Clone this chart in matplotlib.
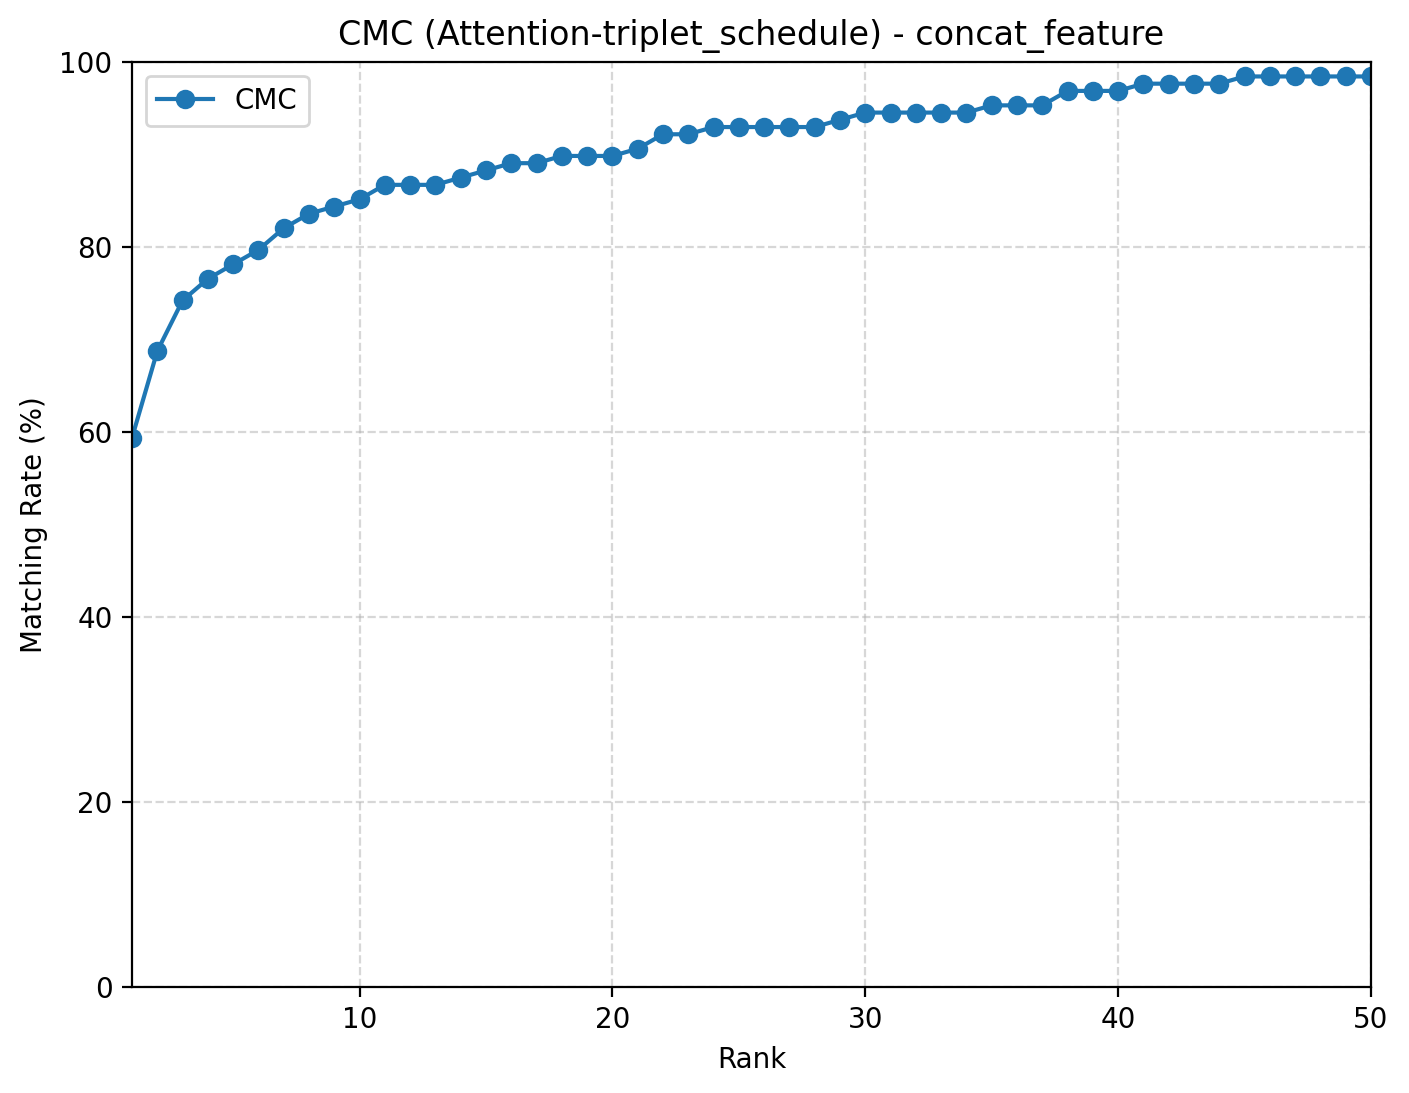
import matplotlib
matplotlib.use("Agg")
import matplotlib.pyplot as plt
import numpy as np

ranks = list(range(1, 51))
hits = [76, 88, 95, 98, 100, 102, 105, 107, 108, 109,
        111, 111, 111, 112, 113, 114, 114, 115, 115, 115,
        116, 118, 118, 119, 119, 119, 119, 119, 120, 121,
        121, 121, 121, 121, 122, 122, 122, 124, 124, 124,
        125, 125, 125, 125, 126, 126, 126, 126, 126, 126]
total = 128
cmc = [h / total * 100 for h in hits]

fig = plt.figure(figsize=(1409/200, 1093/200), dpi=200)
ax = fig.add_axes([132/1409, 1 - 987/1093, (1371-132)/1409, (987-62)/1093])
ax.plot(ranks, cmc, marker='o', label='CMC')
ax.set_xlim(1, 50)
ax.set_ylim(0, 100)
ax.set_xlabel('Rank')
ax.set_ylabel('Matching Rate (%)')
ax.set_title('CMC (Attention-triplet_schedule) - concat_feature')
ax.grid(True, linestyle='--', alpha=0.5)
ax.legend(loc='upper left')
fig.savefig('out.png', dpi=200)
